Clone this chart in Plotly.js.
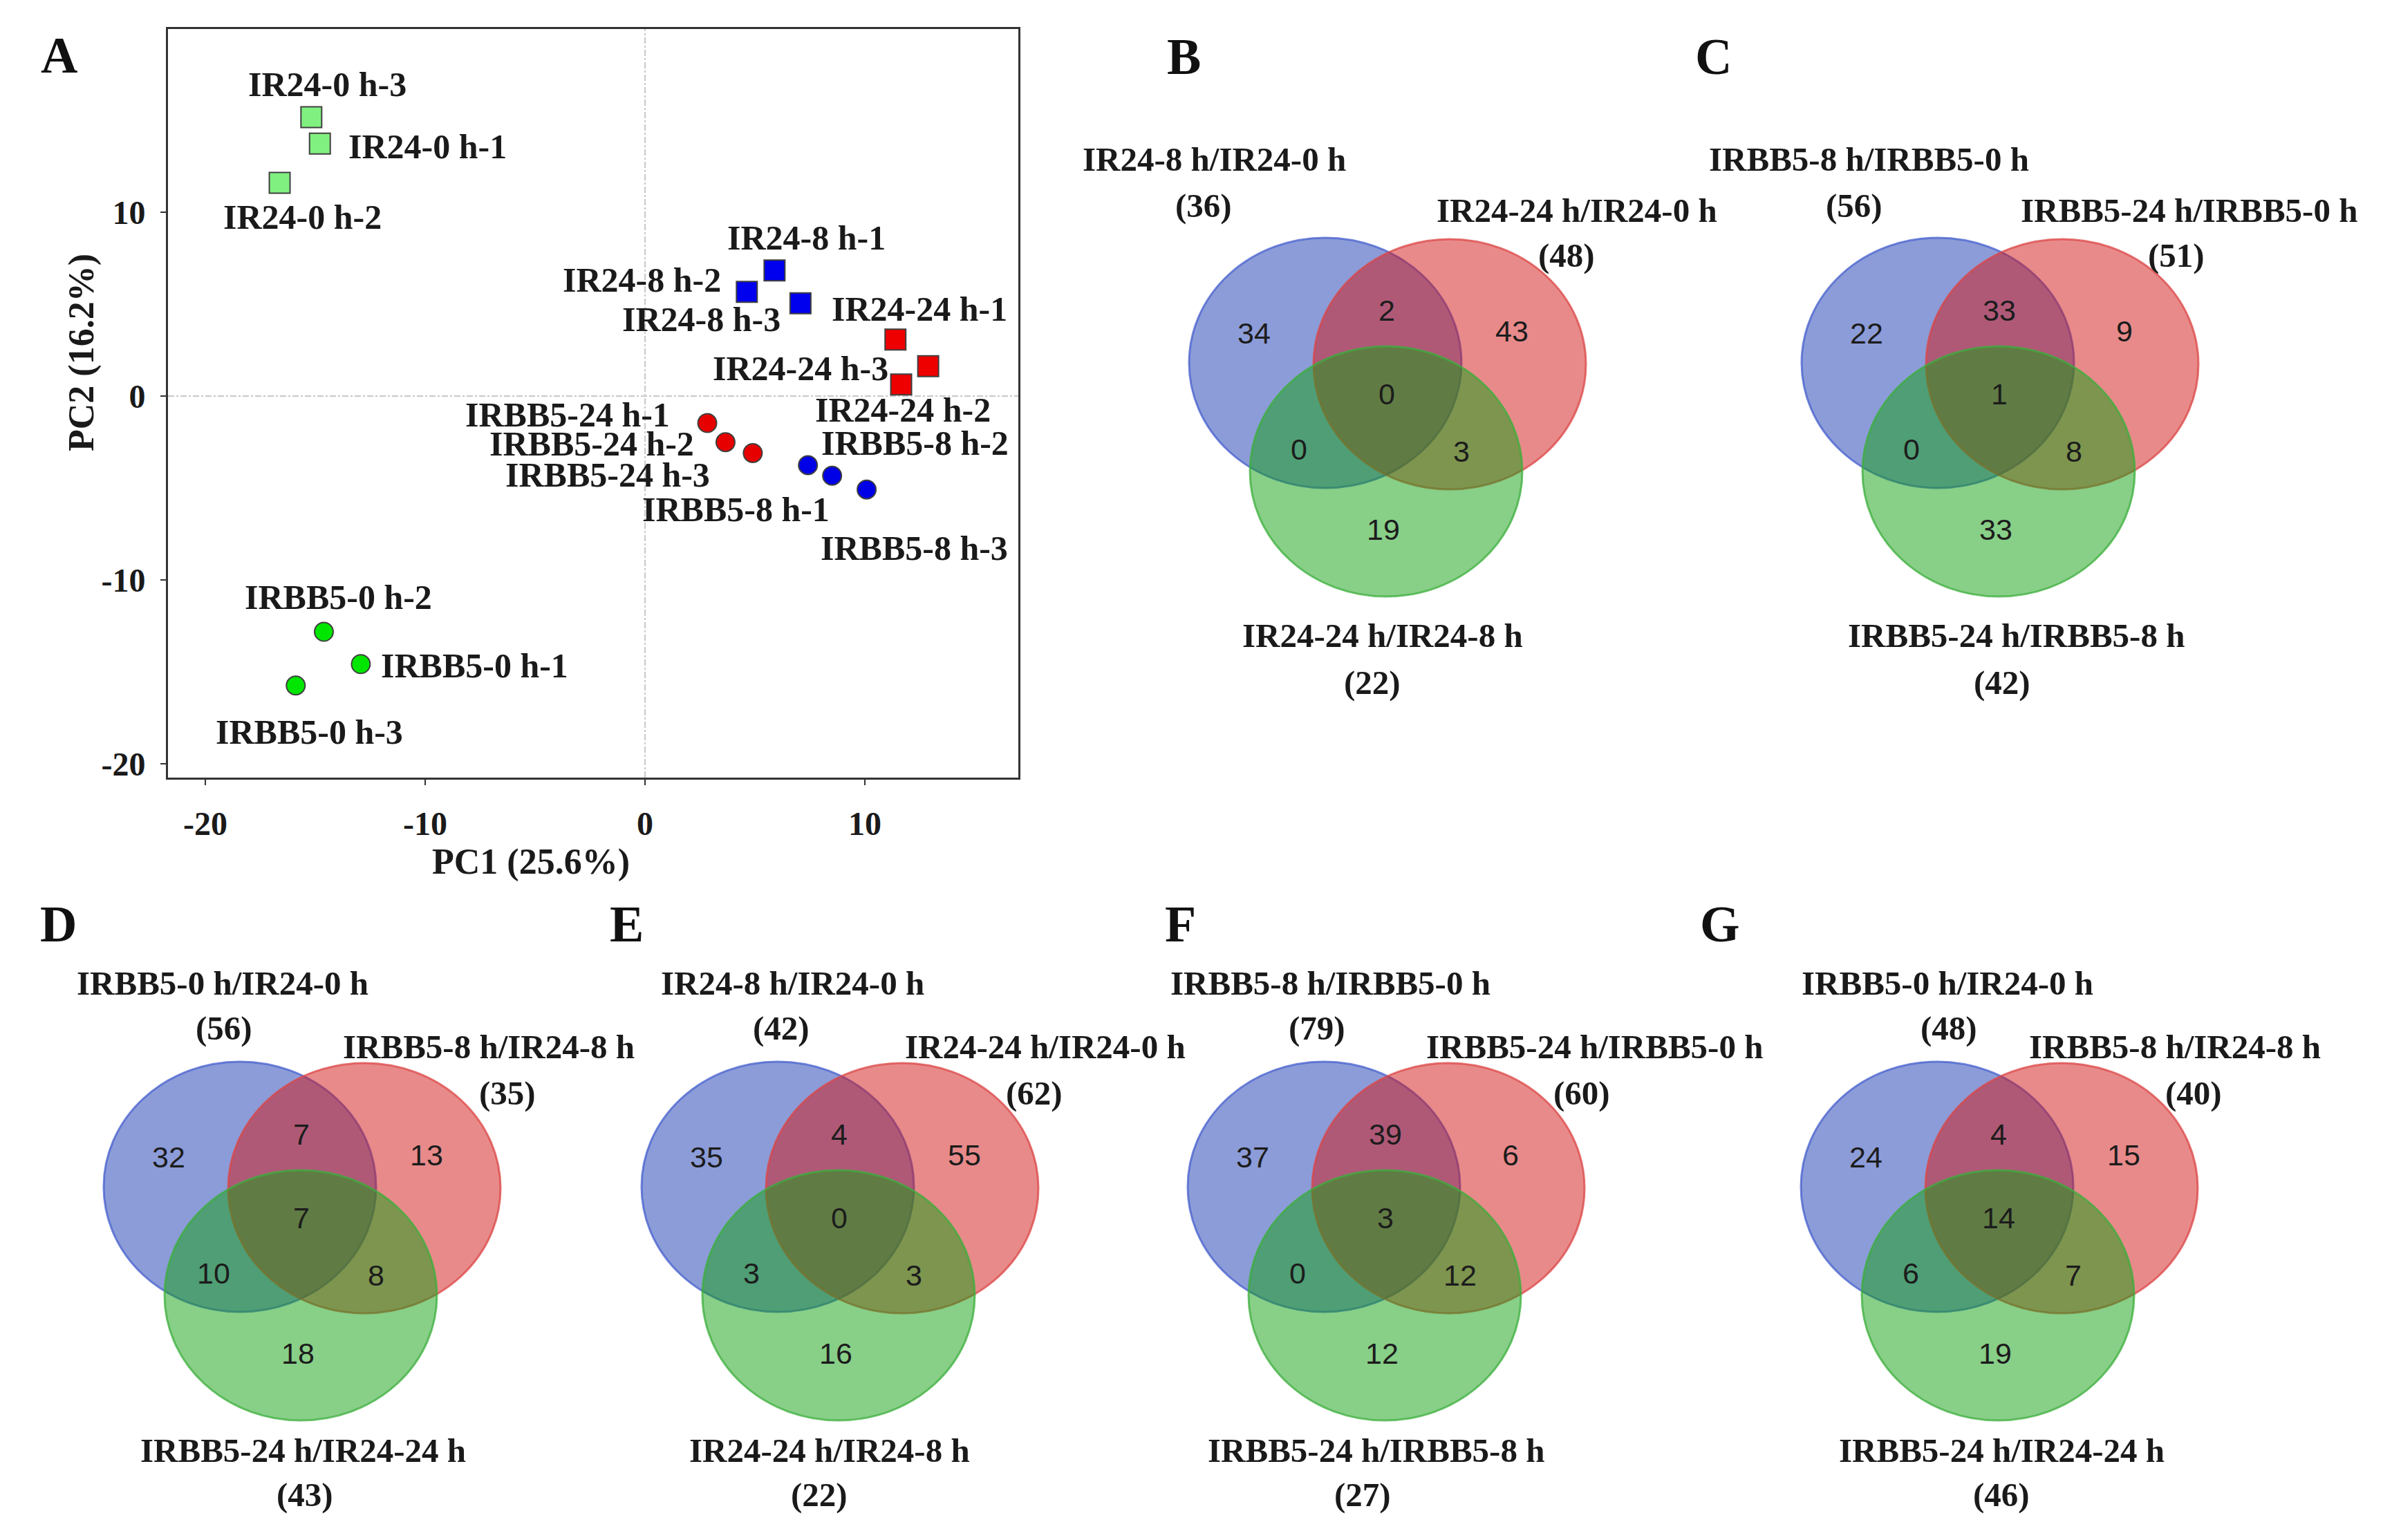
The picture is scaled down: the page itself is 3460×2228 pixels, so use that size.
<!DOCTYPE html>
<html><head><meta charset="utf-8">
<script src="https://cdn.plot.ly/plotly-3.0.1.min.js"></script>
<style>html,body{margin:0;padding:0;background:#fff}#chart{width:3460px;height:2228px}</style>
</head><body><div id="chart"></div>
<script>
const W = 3460, H = 2228;

// ---------------- PCA data (panel A) ----------------
const groups = ['IR24-0', 'IR24-8', 'IR24-24', 'IRBB5-0', 'IRBB5-8', 'IRBB5-24'];
const pc1_IR24_0   = [-14.79, -16.62, -15.18];
const pc2_IR24_0   = [13.73, 11.60, 15.17];
const pc1_IR24_8   = [5.89, 4.63, 7.07];
const pc2_IR24_8   = [6.83, 5.67, 5.05];
const pc1_IR24_24  = [11.39, 12.88, 11.65];
const pc2_IR24_24  = [3.07, 1.63, 0.63];
const pc1_IRBB5_0  = [-12.93, -14.61, -15.89];
const pc2_IRBB5_0  = [-14.58, -12.82, -15.74];
const pc1_IRBB5_8  = [7.41, 8.51, 10.08];
const pc2_IRBB5_8  = [-3.76, -4.33, -5.08];
const pc1_IRBB5_24 = [2.83, 3.66, 4.90];
const pc2_IRBB5_24 = [-1.47, -2.51, -3.10];
const pcaTicks = [-20, -10, 0, 10];

// ---------------- Venn data (panels B-G) ----------------
// region order: onlyA, A∩B, onlyB, A∩B∩C, A∩C, B∩C, onlyC
const vennPanels = ['B', 'C', 'D', 'E', 'F', 'G'];
const vennB = [34, 2, 43, 0, 0, 3, 19];
const vennC = [22, 33, 9, 1, 0, 8, 33];
const vennD = [32, 7, 13, 7, 10, 8, 18];
const vennE = [35, 4, 55, 0, 3, 3, 16];
const vennF = [37, 39, 6, 3, 0, 12, 12];
const vennG = [24, 4, 15, 14, 6, 7, 19];
const setsB = ['IR24-8 h/IR24-0 h', 'IR24-24 h/IR24-0 h', 'IR24-24 h/IR24-8 h'];
const setsC = ['IRBB5-8 h/IRBB5-0 h', 'IRBB5-24 h/IRBB5-0 h', 'IRBB5-24 h/IRBB5-8 h'];
const setsD = ['IRBB5-0 h/IR24-0 h', 'IRBB5-8 h/IR24-8 h', 'IRBB5-24 h/IR24-24 h'];
const setsE = ['IR24-8 h/IR24-0 h', 'IR24-24 h/IR24-0 h', 'IR24-24 h/IR24-8 h'];
const setsF = ['IRBB5-8 h/IRBB5-0 h', 'IRBB5-24 h/IRBB5-0 h', 'IRBB5-24 h/IRBB5-8 h'];
const setsG = ['IRBB5-0 h/IR24-0 h', 'IRBB5-8 h/IR24-8 h', 'IRBB5-24 h/IR24-24 h'];
const totalsB = [36, 48, 22];
const totalsC = [56, 51, 42];
const totalsD = [56, 35, 43];
const totalsE = [42, 62, 22];
const totalsF = [79, 60, 27];
const totalsG = [48, 40, 46];

// ---------------- styling / layout config ----------------
const serif = 'Liberation Serif, Times New Roman, serif';
const sans = 'Liberation Sans, Arial, sans-serif';
const pcaStyle = {
  'IR24-0':   {symbol: 'square', color: '#80F080', size: 30},
  'IR24-8':   {symbol: 'square', color: '#0000EE', size: 30},
  'IR24-24':  {symbol: 'square', color: '#EE0000', size: 30},
  'IRBB5-0':  {symbol: 'circle', color: '#00E600', size: 27},
  'IRBB5-8':  {symbol: 'circle', color: '#0000E6', size: 27},
  'IRBB5-24': {symbol: 'circle', color: '#E60000', size: 27}
};
// label offsets [dx, dy(px, down positive), anchor] per sample
const labelOffsets = {
  'IR24-0':   [[39, 4, 'left'], [33, 50, 'center'], [23, -47, 'center']],
  'IR24-8':   [[46, -47, 'center'], [-35, -17, 'right'], [-27, 23, 'right']],
  'IR24-24':  [[35, -44, 'center'], [-37, 63, 'center'], [-17, -23, 'right']],
  'IRBB5-0':  [[27, 2, 'left'], [21, -50, 'center'], [20, 67, 'center']],
  'IRBB5-8':  [[33, 64, 'right'], [-18, -47, 'left'], [69, 85, 'center']],
  'IRBB5-24': [[-52, -12, 'right'], [-43, 2, 'right'], [-60, 32, 'right']]
};
const pcaData = {
  'IR24-0': [pc1_IR24_0, pc2_IR24_0], 'IR24-8': [pc1_IR24_8, pc2_IR24_8],
  'IR24-24': [pc1_IR24_24, pc2_IR24_24], 'IRBB5-0': [pc1_IRBB5_0, pc2_IRBB5_0],
  'IRBB5-8': [pc1_IRBB5_8, pc2_IRBB5_8], 'IRBB5-24': [pc1_IRBB5_24, pc2_IRBB5_24]
};

// PCA plot box in pixels
const boxL = 243, boxR = 1473, boxT = 42, boxB = 1125;

const traces = [];
const annotations = [];
const shapes = [];

groups.forEach(g => {
  const [xs, ys] = pcaData[g];
  const st = pcaStyle[g];
  traces.push({
    type: 'scatter', mode: 'markers', x: xs, y: ys, xaxis: 'x', yaxis: 'y',
    name: g, showlegend: false, hoverinfo: 'skip', cliponaxis: false,
    marker: {symbol: st.symbol, size: st.size, color: st.color, line: {color: '#404040', width: 2}}
  });
  xs.forEach((x, i) => {
    const off = labelOffsets[g][i];
    annotations.push({
      xref: 'x', yref: 'y', x: x, y: ys[i], showarrow: false,
      text: g + ' h-' + (i + 1), xanchor: off[2], yanchor: 'middle',
      xshift: off[0], yshift: -off[1],
      font: {family: serif, size: 50, color: '#1a1a1a', weight: 'bold'}
    });
  });
});

// dash-dot reference lines at zero
shapes.push({type: 'line', xref: 'x', yref: 'y domain', x0: 0, x1: 0, y0: 0, y1: 1,
  line: {color: '#c8c8c8', width: 2, dash: 'dashdot'}, layer: 'below'});
shapes.push({type: 'line', xref: 'x domain', yref: 'y', x0: 0, x1: 1, y0: 0, y1: 0,
  line: {color: '#c8c8c8', width: 2, dash: 'dashdot'}, layer: 'below'});

const axFont = {family: serif, size: 48, color: '#1a1a1a', weight: 'bold'};
const layout = {
  width: W, height: H, autosize: false,
  margin: {l: 0, r: 0, t: 0, b: 0, pad: 0},
  paper_bgcolor: '#ffffff', plot_bgcolor: 'rgba(0,0,0,0)',
  showlegend: false,
  xaxis: {
    domain: [boxL / W, boxR / W], range: [-21.70, 16.98],
    tickvals: pcaTicks, ticktext: pcaTicks.map(String),
    ticks: 'outside', ticklen: 8, tickwidth: 2, tickcolor: '#333',
    showline: true, mirror: true, linecolor: '#333', linewidth: 3,
    showgrid: false, zeroline: false, tickfont: axFont, ticklabelstandoff: 14,
    fixedrange: true
  },
  yaxis: {
    domain: [1 - boxB / H, 1 - boxT / H], range: [-20.75, 19.96],
    tickvals: pcaTicks, ticktext: pcaTicks.map(String),
    ticks: 'outside', ticklen: 8, tickwidth: 2, tickcolor: '#333',
    showline: true, mirror: true, linecolor: '#333', linewidth: 3,
    showgrid: false, zeroline: false, tickfont: axFont, ticklabelstandoff: 12,
    fixedrange: true
  },
  shapes: shapes,
  annotations: annotations
};

function px(x) { return x / W; }
function py(y) { return 1 - y / H; }

// axis titles
annotations.push({xref: 'paper', yref: 'paper', x: px(768), y: py(1247), showarrow: false,
  text: 'PC1 (25.6%)', xanchor: 'center', yanchor: 'middle',
  font: {family: serif, size: 52, color: '#1a1a1a', weight: 'bold'}});
annotations.push({xref: 'paper', yref: 'paper', x: px(118), y: py(510), showarrow: false,
  text: 'PC2 (16.2%)', textangle: -90, xanchor: 'center', yanchor: 'middle',
  font: {family: serif, size: 52, color: '#1a1a1a', weight: 'bold'}});

// panel letters
const panelLetters = ['A', 'B', 'C', 'D', 'E', 'F', 'G'];
const letterPos = [[85, 80], [1712, 82], [2478, 82], [84, 1337], [906, 1337], [1707, 1337], [2488, 1337]];
panelLetters.forEach((L, i) => {
  annotations.push({xref: 'paper', yref: 'paper', x: px(letterPos[i][0]), y: py(letterPos[i][1]),
    showarrow: false, text: L, xanchor: 'center', yanchor: 'middle',
    font: {family: serif, size: 74, color: '#111', weight: 'bold'}});
});

// ---------------- Venn diagrams ----------------
// geometry template in pixels relative to the blue circle centre (y down)
const circ = [
  {cx: 0, cy: 0, fill: 'rgba(25,57,177,0.5)', line: 'rgba(70,95,205,0.75)'},
  {cx: 180, cy: 2, fill: 'rgba(209,21,21,0.5)', line: 'rgba(220,70,70,0.75)'},
  {cx: 88, cy: 157, fill: 'rgba(17,159,17,0.5)', line: 'rgba(60,175,60,0.75)'}
];
const RX = 197, RY = 181;
const regionX = [-103, 89, 270, 89, -38, 197, 84];
const regionY = [-39, -72, -42, 49, 129, 132, 245];

const vennCenters = {B: [1917, 525], C: [2803, 525], D: [347, 1717], E: [1125, 1717], F: [1915, 1717], G: [2802, 1717]};
const vennValues = {B: vennB, C: vennC, D: vennD, E: vennE, F: vennF, G: vennG};
const vennSets = {B: setsB, C: setsC, D: setsD, E: setsE, F: setsF, G: setsG};
const vennTotals = {B: totalsB, C: totalsC, D: totalsD, E: totalsE, F: totalsF, G: totalsG};
// label centres [name x, total x] for top-left, top-right, bottom set labels
const labelX = {
  B: [[1756, 1741], [2281, 2266], [2000, 1985]],
  C: [[2703, 2682], [3166, 3148], [2916, 2896]],
  D: [[322, 324], [707, 734], [438, 441]],
  E: [[1146, 1130], [1512, 1496], [1200, 1185]],
  F: [[1924, 1905], [2306, 2288], [1990, 1971]],
  G: [[2817, 2819], [3146, 3173], [2895, 2895]]
};
const labelYRow1 = [[230, 297], [304, 369], [919, 987]];
const labelYRow2 = [[1422, 1487], [1514, 1581], [2098, 2162]];

const XL = -230, XR = 410, YT = -220, YB = 380;
vennPanels.forEach((p, k) => {
  const ax = k + 2;
  const [cx, cy] = vennCenters[p];
  layout['xaxis' + ax] = {domain: [(cx + XL) / W, (cx + XR) / W], range: [XL, XR], visible: false, fixedrange: true, anchor: 'y' + ax};
  layout['yaxis' + ax] = {domain: [1 - (cy + YB) / H, 1 - (cy + YT) / H], range: [YB, YT], visible: false, fixedrange: true, anchor: 'x' + ax};
  circ.forEach(c => {
    shapes.push({type: 'circle', xref: 'x' + ax, yref: 'y' + ax,
      x0: c.cx - RX, x1: c.cx + RX, y0: c.cy - RY, y1: c.cy + RY,
      fillcolor: c.fill, line: {color: c.line, width: 3}, layer: 'below'});
  });
  traces.push({type: 'scatter', mode: 'text', xaxis: 'x' + ax, yaxis: 'y' + ax,
    x: regionX, y: regionY, text: vennValues[p].map(String), cliponaxis: false,
    textposition: 'middle center', hoverinfo: 'skip', showlegend: false,
    textfont: {family: sans, size: 43, color: '#1c1c1c'}});
  const ly = (p === 'B' || p === 'C') ? labelYRow1 : labelYRow2;
  for (let s = 0; s < 3; s++) {
    annotations.push({xref: 'paper', yref: 'paper', x: px(labelX[p][s][0]), y: py(ly[s][0]),
      showarrow: false, text: vennSets[p][s], xanchor: 'center', yanchor: 'middle',
      font: {family: serif, size: 49, color: '#1a1a1a', weight: 'bold'}});
    annotations.push({xref: 'paper', yref: 'paper', x: px(labelX[p][s][1]), y: py(ly[s][1]),
      showarrow: false, text: '(' + vennTotals[p][s] + ')', xanchor: 'center', yanchor: 'middle',
      font: {family: serif, size: 49, color: '#1a1a1a', weight: 'bold'}});
  }
});

Plotly.newPlot('chart', traces, layout, {staticPlot: true, displayModeBar: false});
</script></body></html>
